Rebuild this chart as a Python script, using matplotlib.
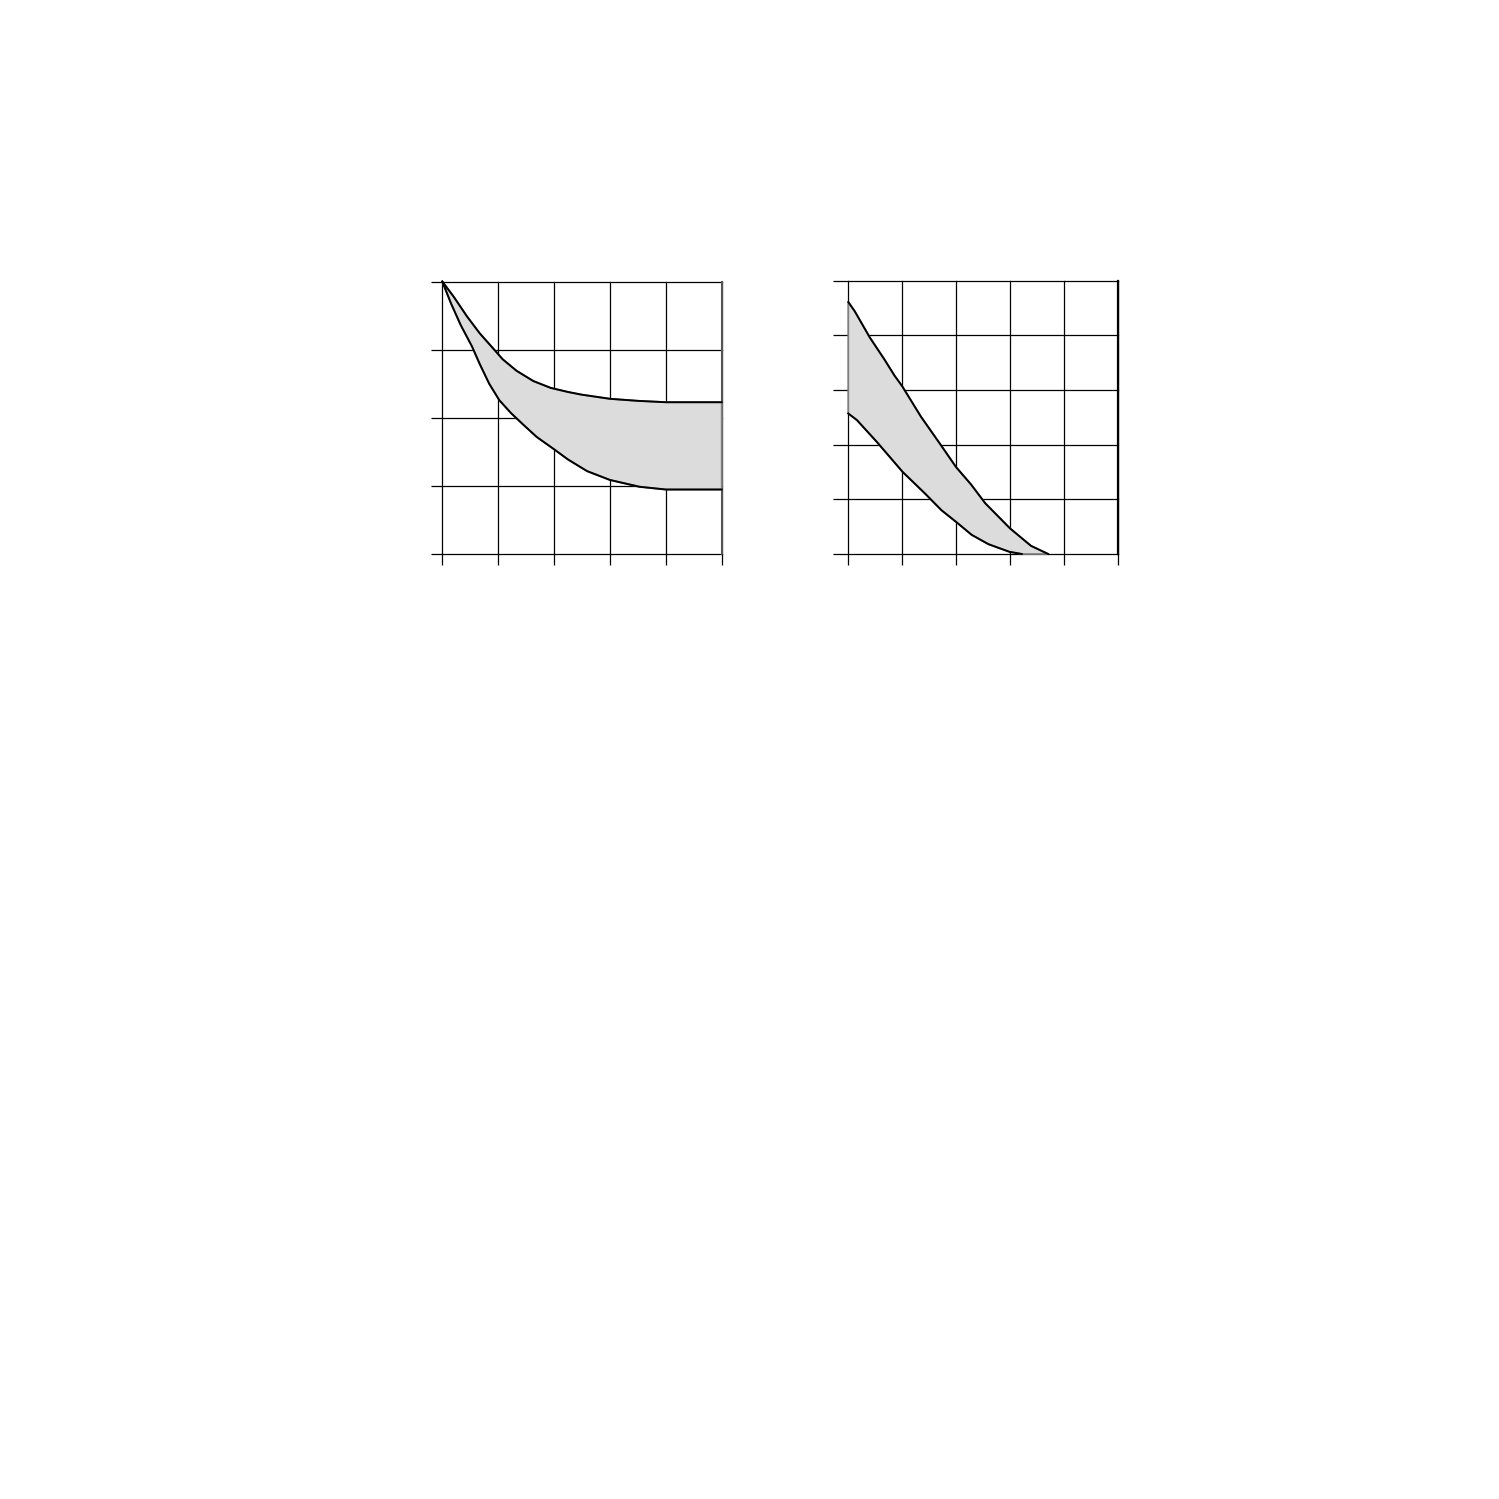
import matplotlib
matplotlib.use("Agg")
import matplotlib.pyplot as plt

# Left panel data
left_upper_x = [0, 0.21, 0.44, 0.67, 0.93, 1.08, 1.33, 1.63, 1.94, 2.25, 2.5, 3.0, 3.5, 4.0, 5.0]
left_upper_y = [4.0, 3.77, 3.49, 3.24, 3.0, 2.86, 2.69, 2.54, 2.44, 2.38, 2.34, 2.28, 2.25, 2.23, 2.23]
left_lower_x = [0, 0.155, 0.33, 0.53, 0.67, 0.84, 1.02, 1.23, 1.45, 1.69, 2.0, 2.25, 2.59, 3.0, 3.53, 4.0, 5.0]
left_lower_y = [4.0, 3.68, 3.36, 3.05, 2.79, 2.50, 2.26, 2.07, 1.90, 1.72, 1.54, 1.39, 1.22, 1.09, 0.99, 0.95, 0.95]

# Right panel data
right_upper_x = [0, 0.12, 0.40, 0.67, 0.86, 1.0, 1.35, 1.72, 2.0, 2.28, 2.54, 3.0, 3.39, 3.71]
right_upper_y = [4.61, 4.44, 3.96, 3.56, 3.26, 3.07, 2.51, 1.99, 1.59, 1.27, 0.93, 0.47, 0.15, 0.0]
right_lower_x = [0, 0.16, 0.53, 1.01, 1.42, 1.73, 2.01, 2.29, 2.60, 2.99, 3.22, 3.71]
right_lower_y = [2.57, 2.45, 2.05, 1.50, 1.11, 0.80, 0.58, 0.35, 0.18, 0.04, 0.0, 0.0]

left_xticks = [0, 1, 2, 3, 4, 5]
left_yticks = [0, 1, 2, 3, 4]
right_xticks = [0, 1, 2, 3, 4, 5]
right_yticks = [0, 1, 2, 3, 4, 5]

W = H = 1499
fig = plt.figure(figsize=(14.99, 14.99), dpi=100)

def fx(px):
    return px / W

def fy(py):
    return 1 - py / H

ax1 = fig.add_axes([fx(442.3), fy(554.3), fx(721.7) - fx(442.3), fy(281.5) - fy(554.3)])
ax2 = fig.add_axes([fx(848.3), fy(554), fx(1117.7) - fx(848.3), fy(280.7) - fy(554)])

fill_color = '#dcdcdc'

def style(ax, xt, yt, ylen):
    ax.set_xlim(xt[0], xt[-1])
    ax.set_ylim(yt[0], yt[-1])
    ax.set_xticks(xt)
    ax.set_yticks(yt)
    for v in xt:
        ax.axvline(v, color='black', lw=0.9, zorder=0.5, clip_on=False)
    for v in yt:
        ax.axhline(v, color='black', lw=0.9, zorder=0.5, clip_on=False)
    for s in ax.spines.values():
        s.set_visible(False)
    ax.tick_params(axis='x', direction='out', length=8, width=0.9, labelbottom=False, color='black')
    ax.tick_params(axis='y', direction='out', length=ylen, width=0.9, labelleft=False, color='black')

style(ax1, left_xticks, left_yticks, 7.6)
style(ax2, right_xticks, right_yticks, 10.8)

# Left panel
poly1_x = list(left_upper_x) + list(left_lower_x[::-1])
poly1_y = list(left_upper_y) + list(left_lower_y[::-1])
ax1.fill(poly1_x, poly1_y, facecolor=fill_color, edgecolor='#808080', lw=1.3, zorder=2, clip_on=False)
ax1.plot(left_upper_x, left_upper_y, color='black', lw=1.4, zorder=3, clip_on=False)
ax1.plot(left_lower_x, left_lower_y, color='black', lw=1.4, zorder=3, clip_on=False)
ax1.axvline(left_xticks[-1], color='#555555', lw=1.5, zorder=1, clip_on=False)

# Right panel
poly2_x = list(right_upper_x) + list(right_lower_x[::-1])
poly2_y = list(right_upper_y) + list(right_lower_y[::-1])
ax2.fill(poly2_x, poly2_y, facecolor=fill_color, edgecolor='#808080', lw=1.3, zorder=2, clip_on=False)
ax2.plot(right_upper_x, right_upper_y, color='black', lw=1.4, zorder=3, clip_on=False)
ax2.plot(right_lower_x[:-1], right_lower_y[:-1], color='black', lw=1.4, zorder=3, clip_on=False)
ax2.axvline(right_xticks[-1], color='black', lw=1.6, zorder=1, clip_on=False)

fig.savefig('out.png', dpi=100, facecolor='white')
